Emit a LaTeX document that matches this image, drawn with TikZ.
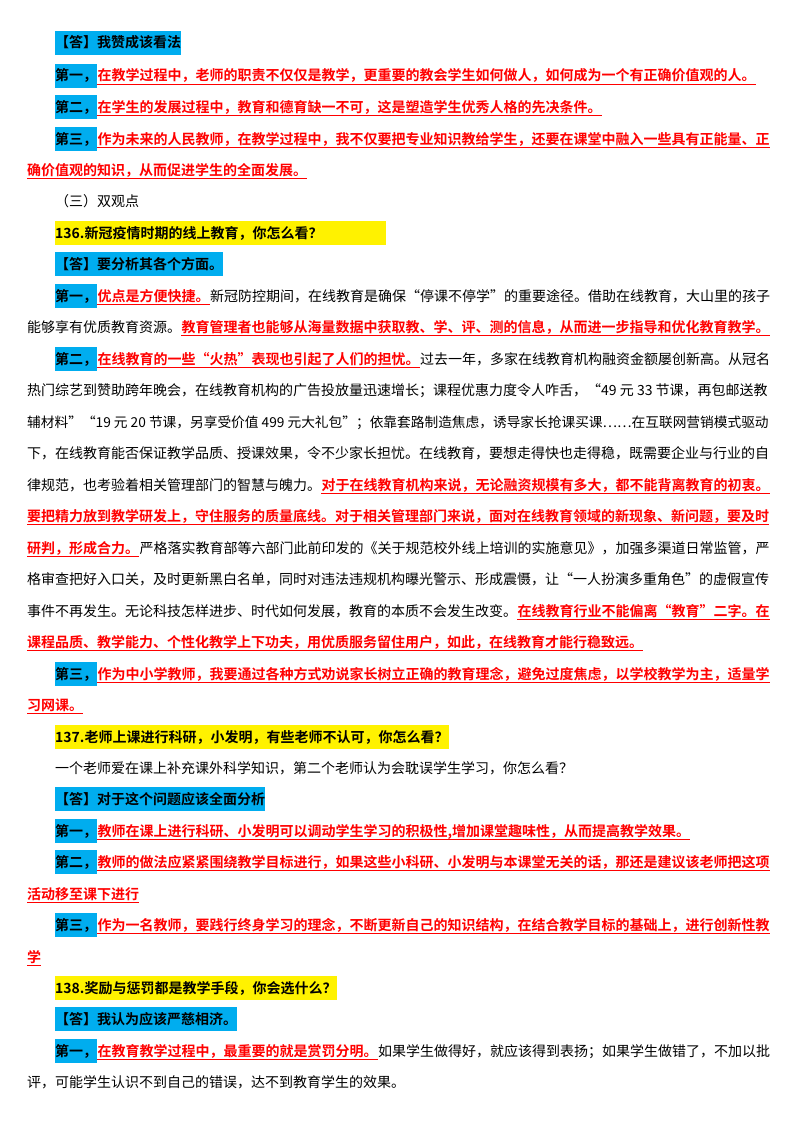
\documentclass[tikz,border=0pt]{standalone}
\usepackage{fontspec}
\setmainfont{Noto Sans CJK SC}[BoldFont={Noto Sans CJK SC Bold}]
\begin{document}
\begin{tikzpicture}[x=1pt,y=1pt,
  every node/.style={inner sep=0pt,anchor=base west,font=\fontsize{14}{14}\selectfont},
  bk/.style={text=black},
  hl/.style={fill=cyan,inner xsep=0pt,minimum height=24pt,font=\fontsize{14}{14}\selectfont\bfseries},
  hy/.style={fill=yellow,inner xsep=0pt,minimum height=24pt,font=\fontsize{14}{14}\selectfont\bfseries},
  rd/.style={text=red,font=\fontsize{14}{14}\selectfont\bfseries,
    append after command={([yshift=-3.5pt]\tikzlastnode.base west) edge[draw,red,line width=0.8pt] ([yshift=-3.5pt]\tikzlastnode.base east)}}]
\fill[white] (0,0) rectangle (800,-1132);
\useasboundingbox (0,0) rectangle (800,-1132);
\def\A{55}\def\B{27}
\node[hl] (a1) at (\A,-48) {【答】我赞成该看法};
\node[hl] (a2) at (\A,-81) {第一，};
\node[rd] (a2b) at (a2.base east) {在教学过程中，老师的职责不仅仅是教学，更重要的教会学生如何做人，如何成为一个有正确价值观的人。};
\node[hl] (a3) at (\A,-112) {第二，};
\node[rd] (a3b) at (a3.base east) {在学生的发展过程中，教育和德育缺一不可，这是塑造学生优秀人格的先决条件。};
\node[hl] (a4) at (\A,-144) {第三，};
\node[rd] (a4b) at (a4.base east) {作为未来的人民教师，在教学过程中，我不仅要把专业知识教给学生，还要在课堂中融入一些具有正能量、正};
\node[rd] (a5) at (\B,-175) {确价值观的知识，从而促进学生的全面发展。};
\node[bk] (a6) at (\A,-206) {（三）双观点};
\node[hy,minimum width=331pt,align=left,text width=331pt] (a7) at (\A,-238) {136.新冠疫情时期的线上教育，你怎么看？};
\node[hl] (a8) at (\A,-269) {【答】要分析其各个方面。};
\node[hl] (a9) at (\A,-301) {第一，};
\node[rd] (a9b) at (a9.base east) {优点是方便快捷。};
\node[bk] (a9c) at (a9b.base east) {新冠防控期间，在线教育是确保“停课不停学”的重要途径。借助在线教育，大山里的孩子};
\node[bk] (a10) at (\B,-332) {能够享有优质教育资源。};
\node[rd] (a10b) at (a10.base east) {教育管理者也能够从海量数据中获取教、学、评、测的信息，从而进一步指导和优化教育教学。};
\node[hl] (a11) at (\A,-364) {第二，};
\node[rd] (a11b) at (a11.base east) {在线教育的一些“火热”表现也引起了人们的担忧。};
\node[bk] (a11c) at (a11b.base east) {过去一年，多家在线教育机构融资金额屡创新高。从冠名};
\node[bk] (a12) at (\B,-395) {热门综艺到赞助跨年晚会，在线教育机构的广告投放量迅速增长；课程优惠力度令人咋舌，“49 元 33 节课，再包邮送教};
\node[bk,font=\fontsize{13.7}{14}\selectfont] (a13) at (\B,-427) {辅材料”“19 元 20 节课，另享受价值 499 元大礼包”；依靠套路制造焦虑，诱导家长抢课买课……在互联网营销模式驱动};
\node[bk] (a14) at (\B,-458) {下，在线教育能否保证教学品质、授课效果，令不少家长担忧。在线教育，要想走得快也走得稳，既需要企业与行业的自};
\node[bk] (a15) at (\B,-490) {律规范，也考验着相关管理部门的智慧与魄力。};
\node[rd] (a15b) at (a15.base east) {对于在线教育机构来说，无论融资规模有多大，都不能背离教育的初衷。};
\node[rd] (a16) at (\B,-521) {要把精力放到教学研发上，守住服务的质量底线。对于相关管理部门来说，面对在线教育领域的新现象、新问题，要及时};
\node[rd] (a17) at (\B,-553) {研判，形成合力。};
\node[bk] (a17b) at (a17.base east) {严格落实教育部等六部门此前印发的《关于规范校外线上培训的实施意见》，加强多渠道日常监管，严};
\node[bk] (a18) at (\B,-584) {格审查把好入口关，及时更新黑白名单，同时对违法违规机构曝光警示、形成震慑，让“一人扮演多重角色”的虚假宣传};
\node[bk] (a19) at (\B,-616) {事件不再发生。无论科技怎样进步、时代如何发展，教育的本质不会发生改变。};
\node[rd] (a19b) at (a19.base east) {在线教育行业不能偏离“教育”二字。在};
\node[rd] (a20) at (\B,-647) {课程品质、教学能力、个性化教学上下功夫，用优质服务留住用户，如此，在线教育才能行稳致远。};
\node[hl] (a21) at (\A,-679) {第三，};
\node[rd] (a21b) at (a21.base east) {作为中小学教师，我要通过各种方式劝说家长树立正确的教育理念，避免过度焦虑，以学校教学为主，适量学};
\node[rd] (a22) at (\B,-710) {习网课。};
\node[hy] (a23) at (\A,-742) {137.老师上课进行科研，小发明，有些老师不认可，你怎么看？};
\node[bk] (a24) at (\A,-773) {一个老师爱在课上补充课外科学知识，第二个老师认为会耽误学生学习，你怎么看？};
\node[hl] (a25) at (\A,-804) {【答】对于这个问题应该全面分析};
\node[hl] (a26) at (\A,-836) {第一，};
\node[rd] (a26b) at (a26.base east) {教师在课上进行科研、小发明可以调动学生学习的积极性,增加课堂趣味性，从而提高教学效果。};
\node[hl] (a27) at (\A,-867) {第二，};
\node[rd] (a27b) at (a27.base east) {教师的做法应紧紧围绕教学目标进行，如果这些小科研、小发明与本课堂无关的话，那还是建议该老师把这项};
\node[rd] (a28) at (\B,-899) {活动移至课下进行};
\node[hl] (a29) at (\A,-930) {第三，};
\node[rd] (a29b) at (a29.base east) {作为一名教师，要践行终身学习的理念，不断更新自己的知识结构，在结合教学目标的基础上，进行创新性教};
\node[rd] (a30) at (\B,-962) {学};
\node[hy] (a31) at (\A,-993) {138.奖励与惩罚都是教学手段，你会选什么？};
\node[hl] (a32) at (\A,-1024) {【答】我认为应该严慈相济。};
\node[hl] (a33) at (\A,-1056) {第一，};
\node[rd] (a33b) at (a33.base east) {在教育教学过程中，最重要的就是赏罚分明。};
\node[bk] (a33c) at (a33b.base east) {如果学生做得好，就应该得到表扬；如果学生做错了，不加以批};
\node[bk] (a34) at (\B,-1087) {评，可能学生认识不到自己的错误，达不到教育学生的效果。};
\end{tikzpicture}
\end{document}
